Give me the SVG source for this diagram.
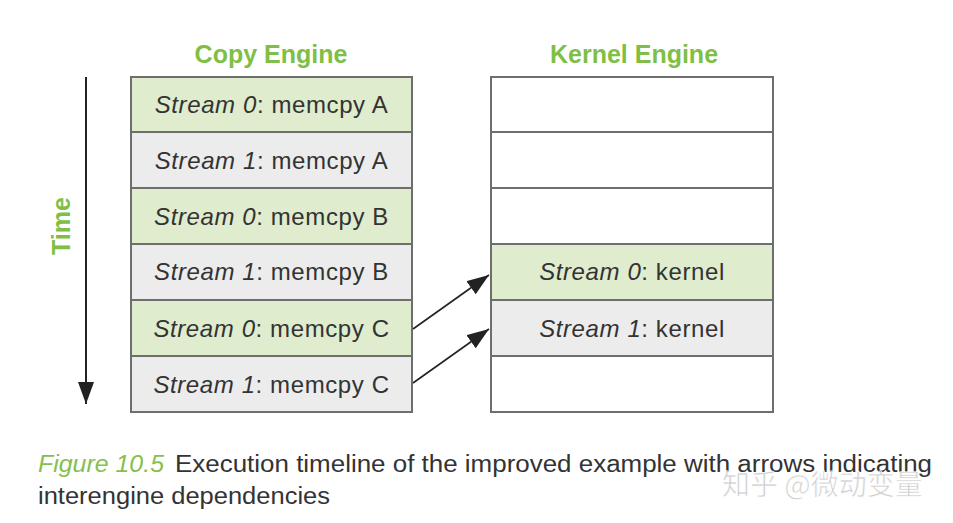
<svg xmlns="http://www.w3.org/2000/svg" width="953" height="523" viewBox="0 0 953 523">
<defs>
<style>
.hdr{font-family:"Liberation Sans",Arial,sans-serif;font-weight:bold;font-size:25px;fill:#7fbf45;text-anchor:middle}
.cell{stroke:#6e6e6e;stroke-width:2}
.g{fill:#dfeccd}
.n{fill:#ececec}
.w{fill:#ffffff}
.lbl{font-family:"Liberation Sans",Arial,sans-serif;font-size:24px;letter-spacing:0.6px;fill:#333333;text-anchor:middle}
.it{font-style:italic}
.cap{font-family:"Liberation Sans",Arial,sans-serif;font-size:23px;fill:#333333}
.fig{font-style:italic;fill:#86bf4c}
.conn{stroke:#222222;stroke-width:1.6;fill:none}
</style>
<marker id="ahBig" viewBox="0 0 10 10" refX="10" refY="5" markerWidth="22" markerHeight="16" markerUnits="userSpaceOnUse" orient="auto" preserveAspectRatio="none">
<path d="M0,0 L10,5 L0,10 z" fill="#222222"/>
</marker>
</defs>
<rect width="953" height="523" fill="#ffffff"/>

<text class="hdr" x="271" y="63">Copy Engine</text>
<text class="hdr" x="634" y="63">Kernel Engine</text>

<g id="time-axis">
<line x1="86" y1="77" x2="86" y2="404" stroke="#222222" stroke-width="2" marker-end="url(#ahBig)"/>
<text class="hdr" transform="translate(70,226) rotate(-90)" x="0" y="0">Time</text>
</g>

<g id="copy-s0-a"><rect class="cell g" x="131" y="77" width="281" height="55"/><text class="lbl" x="271.5" y="113"><tspan class="it">Stream 0</tspan>: memcpy A</text></g>
<g id="copy-s1-a"><rect class="cell n" x="131" y="132" width="281" height="56"/><text class="lbl" x="271.5" y="169"><tspan class="it">Stream 1</tspan>: memcpy A</text></g>
<g id="copy-s0-b"><rect class="cell g" x="131" y="188" width="281" height="56"/><text class="lbl" x="271.5" y="225"><tspan class="it">Stream 0</tspan>: memcpy B</text></g>
<g id="copy-s1-b"><rect class="cell n" x="131" y="244" width="281" height="56"/><text class="lbl" x="271.5" y="280"><tspan class="it">Stream 1</tspan>: memcpy B</text></g>
<g id="copy-s0-c"><rect class="cell g" x="131" y="300" width="281" height="56"/><text class="lbl" x="271.5" y="337"><tspan class="it">Stream 0</tspan>: memcpy C</text></g>
<g id="copy-s1-c"><rect class="cell n" x="131" y="356" width="281" height="56"/><text class="lbl" x="271.5" y="393"><tspan class="it">Stream 1</tspan>: memcpy C</text></g>

<g id="kern-1"><rect class="cell w" x="491" y="77" width="282" height="55"/></g>
<g id="kern-2"><rect class="cell w" x="491" y="132" width="282" height="56"/></g>
<g id="kern-3"><rect class="cell w" x="491" y="188" width="282" height="56"/></g>
<g id="kern-s0"><rect class="cell g" x="491" y="244" width="282" height="56"/><text class="lbl" x="632" y="280"><tspan class="it">Stream 0</tspan>: kernel</text></g>
<g id="kern-s1"><rect class="cell n" x="491" y="300" width="282" height="56"/><text class="lbl" x="632" y="337"><tspan class="it">Stream 1</tspan>: kernel</text></g>
<g id="kern-6"><rect class="cell w" x="491" y="356" width="282" height="56"/></g>

<g id="connectors">
<line class="conn" x1="413" y1="329" x2="489" y2="275" marker-end="url(#ahBig)"/>
<line class="conn" x1="413" y1="383" x2="489" y2="329" marker-end="url(#ahBig)"/>
</g>

<g id="caption">
<text class="cap fig" x="38" y="472" textLength="126" lengthAdjust="spacingAndGlyphs">Figure 10.5</text>
<text class="cap" x="175" y="472" textLength="757" lengthAdjust="spacingAndGlyphs">Execution timeline of the improved example with arrows indicating</text>
<text class="cap" x="38" y="504" textLength="292" lengthAdjust="spacingAndGlyphs">interengine dependencies</text>
</g>

<text x="722" y="495" font-family="'Noto Sans CJK SC',sans-serif" font-size="28" fill="#bbbbbb" fill-opacity="0.7" stroke="#ffffff" stroke-width="0.6">知乎 @微动变量</text>
</svg>
